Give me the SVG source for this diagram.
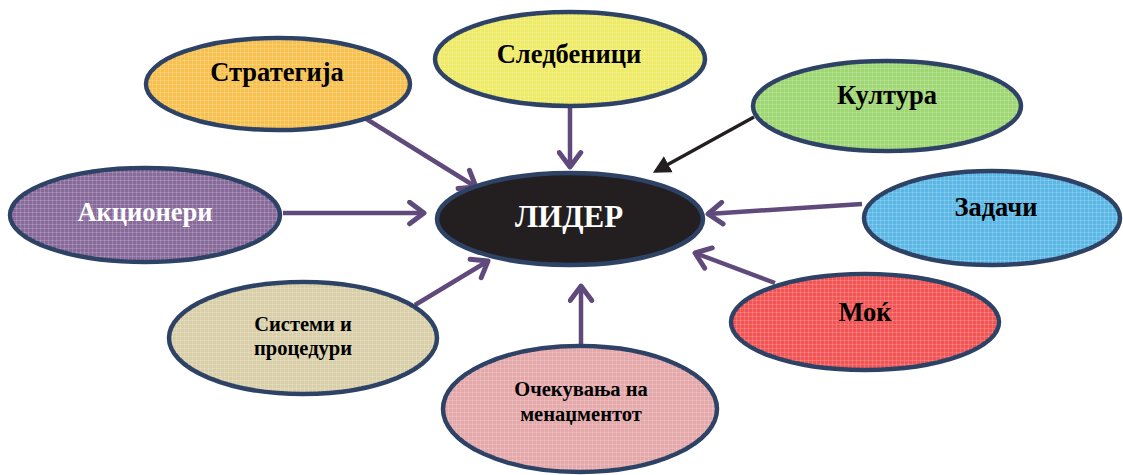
<svg xmlns="http://www.w3.org/2000/svg" width="1123" height="475" viewBox="0 0 1123 475">
<style>
.node{stroke:#2e4266;stroke-width:4.5}
.tex{fill:url(#grid);stroke:none}
.lbl{font-family:"Liberation Serif","DejaVu Serif",serif;font-weight:bold;text-anchor:middle;fill:#000}
.big{font-size:26.5px}
.small{font-size:20.5px}
.conn{stroke:#604a7b;stroke-width:4.5;fill:none;marker-end:url(#chev)}
</style>
<defs>
<pattern id="grid" width="4" height="4" patternUnits="userSpaceOnUse">
<path d="M0 0.5H4M0.5 0V4" stroke="#ffffff" stroke-opacity="0.17" stroke-width="1"/>
</pattern>
<marker id="chev" markerWidth="6" markerHeight="6" refX="4.2" refY="3" orient="auto" markerUnits="strokeWidth" viewBox="0 0 6 6">
<path d="M1 0.6L4.2 3L1 5.4" fill="none" stroke="#604a7b" stroke-width="1.1" stroke-linecap="round" stroke-linejoin="round"/>
</marker>
<marker id="tri" markerWidth="6" markerHeight="6" refX="4" refY="3" orient="auto" markerUnits="strokeWidth" viewBox="0 0 6 6">
<path d="M0 0.4L5 3L0 5.6Z" fill="#231f20"/>
</marker>
</defs>
<g id="connectors">
<line class="conn" x1="360" y1="115" x2="476" y2="187"/>
<line class="conn" x1="570" y1="108" x2="570" y2="167"/>
<line x1="754" y1="117" x2="656" y2="171" stroke="#231f20" stroke-width="3.5" marker-end="url(#tri)"/>
<line class="conn" x1="283" y1="213" x2="424" y2="213"/>
<line class="conn" x1="862" y1="204" x2="708" y2="214"/>
<line class="conn" x1="775" y1="283" x2="695" y2="253"/>
<line class="conn" x1="415" y1="305" x2="488" y2="261"/>
<line class="conn" x1="581" y1="345" x2="581" y2="286"/>
</g>
<g id="strategija">
<ellipse class="node" cx="278" cy="84" rx="132" ry="46" fill="#f7c04e"/>
<ellipse class="tex" cx="278" cy="84" rx="130" ry="44"/>
<text class="lbl big" x="277" y="81">Стратегија</text>
</g>
<g id="sledbenici">
<ellipse class="node" cx="570" cy="59" rx="135" ry="47" fill="#eeea66"/>
<ellipse class="tex" cx="570" cy="59" rx="133" ry="45"/>
<text class="lbl big" x="569" y="63">Следбеници</text>
</g>
<g id="kultura">
<ellipse class="node" cx="887" cy="106" rx="134" ry="45" fill="#9ed671"/>
<ellipse class="tex" cx="887" cy="106" rx="132" ry="43"/>
<text class="lbl big" x="887" y="104">Култура</text>
</g>
<g id="akcioneri">
<ellipse class="node" cx="145" cy="215" rx="135" ry="47" fill="#87699a"/>
<ellipse class="tex" cx="145" cy="215" rx="133" ry="45"/>
<text class="lbl big" x="145" y="221" style="fill:#ffffff">Акционери</text>
</g>
<g id="lider">
<ellipse class="node" cx="570" cy="219" rx="133" ry="46" fill="#231f20"/>
<text class="lbl" x="569" y="227" font-size="31" style="fill:#ffffff">ЛИДЕР</text>
</g>
<g id="zadachi">
<ellipse class="node" cx="992" cy="218" rx="128" ry="47" fill="#5bb8e6"/>
<ellipse class="tex" cx="992" cy="218" rx="126" ry="45"/>
<text class="lbl big" x="996" y="216">Задачи</text>
</g>
<g id="sistemi">
<ellipse class="node" cx="303" cy="338" rx="134" ry="56" fill="#d8cfa8"/>
<ellipse class="tex" cx="303" cy="338" rx="132" ry="54"/>
<text class="lbl small" x="303" y="331">Системи и</text>
<text class="lbl small" x="303" y="355">процедури</text>
</g>
<g id="mok">
<ellipse class="node" cx="865" cy="322" rx="134" ry="48" fill="#f25454"/>
<ellipse class="tex" cx="865" cy="322" rx="132" ry="46"/>
<text class="lbl big" x="865" y="321">Моќ</text>
</g>
<g id="ochekuvanja">
<ellipse class="node" cx="580" cy="409" rx="137" ry="63" fill="#e4a7aa"/>
<ellipse class="tex" cx="580" cy="409" rx="135" ry="61"/>
<text class="lbl small" x="581" y="396">Очекувања на</text>
<text class="lbl small" x="581" y="421">менаџментот</text>
</g>
</svg>
